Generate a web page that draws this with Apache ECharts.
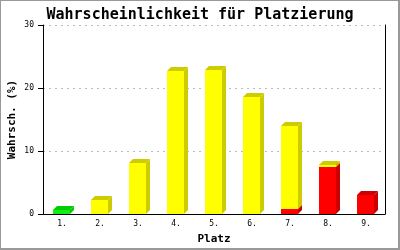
<!DOCTYPE html>
<html>
<head>
<meta charset="utf-8">
<script src="https://cdn.jsdelivr.net/npm/echarts@6/dist/echarts.min.js"></script>
<style>
html,body{margin:0;padding:0;background:#fff;}
#c{width:400px;height:250px;}
</style>
</head>
<body>
<div id="c"></div>
<script>
var categories = ['1.', '2.', '3.', '4.', '5.', '6.', '7.', '8.', '9.'];
var redValues = [0, 0, 0, 0, 0, 0, 0.85, 7.5, 3.05];
var yellowValues = [0, 2.3, 8.15, 22.7, 22.85, 18.6, 13.1, 0.3, 0];
var greenValues = [0.7, 0, 0, 0, 0, 0, 0, 0, 0];
var yTicks = [0, 10, 20, 30];

var FONT = '"DejaVu Sans Mono", monospace';

function stackData(values, below) {
  return values.map(function (v, i) {
    var base = 0;
    below.forEach(function (arr) { base += arr[i]; });
    return [i, base, base + v];
  });
}

function makeRender(front, dark) {
  return function (params, api) {
    var lo = api.value(1), hi = api.value(2);
    if (hi - lo <= 0) return null;
    var pB = api.coord([api.value(0), lo]);
    var pT = api.coord([api.value(0), hi]);
    var band = api.size([1, 0])[0];
    var w = Math.round(band * 0.45);
    var x0 = Math.round(pB[0] - w / 2 - 0.5);
    var x1 = x0 + w;
    var yB = Math.round(pB[1]);
    var yT = Math.round(pT[1]);
    var d = 4;
    return {
      type: 'group',
      children: [
        { type: 'polygon', shape: { points: [[x1, yT], [x1 + d, yT - d], [x1 + d, yB - d], [x1, yB]] }, style: { fill: dark } },
        { type: 'polygon', shape: { points: [[x0, yT], [x0 + d, yT - d], [x1 + d, yT - d], [x1, yT]] }, style: { fill: dark } },
        { type: 'rect', shape: { x: x0, y: yT, width: w, height: yB - yT }, style: { fill: front } }
      ]
    };
  };
}

var chart = echarts.init(document.getElementById('c'), null, { renderer: 'canvas' });
chart.setOption({
  backgroundColor: '#ffffff',
  animation: false,
  title: {
    text: 'Wahrscheinlichkeit für Platzierung',
    left: 'center',
    top: 3,
    textStyle: { fontFamily: FONT, fontSize: 15, fontWeight: 'bold', color: '#000' }
  },
  grid: { left: 43, right: 15, top: 25, bottom: 36, containLabel: false, outerBoundsMode: 'none' },
  xAxis: {
    type: 'category',
    data: categories,
    boundaryGap: true,
    axisLine: { lineStyle: { color: '#000', width: 1 } },
    axisTick: { show: false },
    axisLabel: { fontFamily: FONT, fontSize: 8, color: '#000', margin: 6 },
    name: 'Platz',
    nameLocation: 'middle',
    nameGap: 20,
    nameTextStyle: { fontFamily: FONT, fontSize: 11, fontWeight: 'bold', color: '#000' }
  },
  yAxis: [{
    type: 'value',
    min: yTicks[0],
    max: yTicks[yTicks.length - 1],
    interval: 10,
    axisLine: { show: true, lineStyle: { color: '#000', width: 1 } },
    axisTick: { show: true, length: 5, lineStyle: { color: '#000' } },
    axisLabel: { fontFamily: FONT, fontSize: 8, color: '#000', margin: 9 },
    splitLine: { show: true, lineStyle: { color: '#bbbbbb', type: [2, 4] } },
    name: 'Wahrsch. (%)',
    nameLocation: 'middle',
    nameGap: 25,
    nameMoveOverlap: false,
    nameTextStyle: { fontFamily: FONT, fontSize: 11, fontWeight: 'bold', color: '#000' }
  }, {
    type: 'value',
    position: 'right',
    min: 0, max: 30, interval: 10,
    axisLine: { show: true, lineStyle: { color: '#000', width: 1 } },
    axisTick: { show: false },
    axisLabel: { show: false },
    splitLine: { show: false }
  }],
  graphic: [
    { type: 'rect', shape: { x: 0, y: 0, width: 400, height: 1 }, style: { fill: '#999' }, silent: true },
    { type: 'rect', shape: { x: 0, y: 0, width: 1, height: 250 }, style: { fill: '#999' }, silent: true },
    { type: 'rect', shape: { x: 398, y: 0, width: 2, height: 250 }, style: { fill: '#999' }, silent: true },
    { type: 'rect', shape: { x: 0, y: 248, width: 400, height: 2 }, style: { fill: '#999' }, silent: true }
  ],
  series: [
    { type: 'custom', name: 'rot', renderItem: makeRender('#ff0000', '#cc0000'), encode: { x: 0, y: [1, 2] }, data: stackData(redValues, []) },
    { type: 'custom', name: 'gelb', renderItem: makeRender('#ffff00', '#cccc00'), encode: { x: 0, y: [1, 2] }, data: stackData(yellowValues, [redValues]) },
    { type: 'custom', name: 'grün', renderItem: makeRender('#11ee11', '#00cc00'), encode: { x: 0, y: [1, 2] }, data: stackData(greenValues, [redValues, yellowValues]) }
  ]
});
</script>
</body>
</html>
